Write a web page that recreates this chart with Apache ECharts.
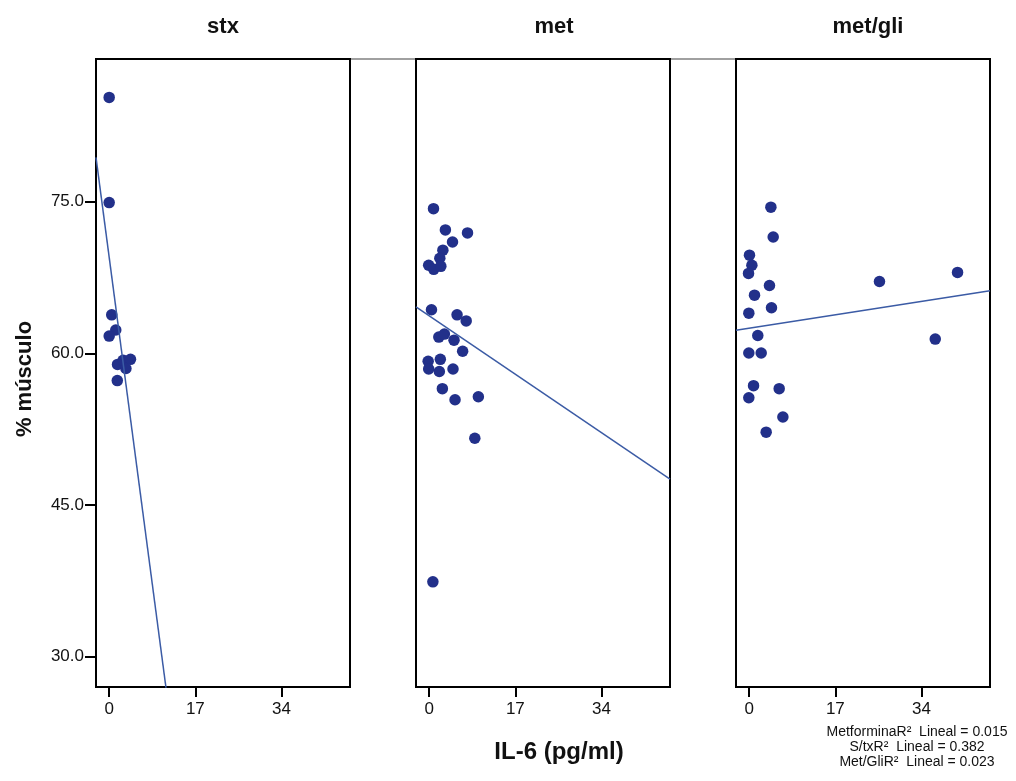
<!DOCTYPE html>
<html>
<head>
<meta charset="utf-8">
<script src="https://cdn.jsdelivr.net/npm/echarts@6/dist/echarts.min.js"></script>
<style>html,body{margin:0;padding:0;background:#fff}#c{width:1016px;height:781px}</style>
</head>
<body>
<div id="c"></div>
<script>
// ---- data ----
const panelTitles = ['stx', 'met', 'met/gli'];
const stxX = [0, 0, 0.5, 1.3, 0, 1.65, 2.76, 4.2, 3.3, 1.6];
const stxY = [85.3, 74.9, 63.8, 62.3, 61.7, 58.9, 59.3, 59.4, 58.5, 57.3];
const metX = [0.85, 3.2, 7.56, 4.6, 2.7, 2.1, -0.1, 0.9, 2.3, 0.45, 5.5, 7.3, 1.9, 3.0, 4.9, 6.6, -0.2, 2.2, -0.1, 2.0, 4.7, 2.6, 5.1, 9.7, 9.0, 0.73];
const metY = [74.3, 72.2, 71.9, 71.0, 70.2, 69.4, 68.7, 68.3, 68.6, 64.3, 63.8, 63.2, 61.6, 61.9, 61.3, 60.2, 59.2, 59.4, 58.45, 58.2, 58.45, 56.5, 55.4, 55.7, 51.6, 37.4];
const gliX = [4.28, 4.74, 0.06, 0.53, -0.13, 4.0, 1.05, 4.4, -0.07, 1.7, -0.07, 2.37, 0.86, 5.92, -0.07, 6.65, 3.35, 25.7, 41.1, 36.7];
const gliY = [74.45, 71.5, 69.7, 68.7, 67.9, 66.7, 65.75, 64.5, 63.97, 61.76, 60.03, 60.03, 56.8, 56.5, 55.6, 53.7, 52.2, 67.1, 68.0, 61.4];
// linear fits [intercept, slope]
const stxFit = [69.5, -3.8];
const metFit = [63.7, -0.34];
const gliFit = [62.48, 0.078];
const xTicks = [0, 17, 34];
const yTicks = [30, 45, 60, 75];
const r2Labels = ['Metformina', 'S/tx', 'Met/Gli'];
const r2Values = ['0.015', '0.382', '0.023'];
const xName = 'IL-6 (pg/ml)';
const yName = '% músculo';

const X_MIN = -2.6, X_MAX = 47.5, Y_MIN = 27.0, Y_MAX = 89.1;
const FONT = 'Liberation Sans, Arial, Helvetica, sans-serif';
const DOT = '#22308a', LINE = '#3b5ba5';

const xs = [stxX, metX, gliX], ys = [stxY, metY, gliY], fits = [stxFit, metFit, gliFit];
const lefts = [96, 416, 736];

const grid = lefts.map(l => ({left: l, top: 59, width: 254, height: 628, show: true, borderColor: '#000', borderWidth: 2, backgroundColor: 'transparent'}));
const xAxis = lefts.map((l, i) => ({
  type: 'value', gridIndex: i, min: X_MIN, max: X_MAX,
  splitLine: {show: false}, axisLine: {show: false, onZero: false},
  axisTick: {show: true, length: 10, customValues: xTicks, lineStyle: {color: '#000', width: 2}},
  axisLabel: {show: true, customValues: xTicks, margin: 14, fontSize: 17, color: '#111', fontFamily: FONT}
}));
const yAxis = lefts.map((l, i) => ({
  type: 'value', gridIndex: i, min: Y_MIN, max: Y_MAX,
  splitLine: {show: false}, axisLine: {show: false, onZero: false},
  axisTick: {show: i === 0, length: 11, customValues: yTicks, lineStyle: {color: '#000', width: 2}},
  axisLabel: {show: i === 0, customValues: yTicks, margin: 12, fontSize: 17, color: '#111', fontFamily: FONT,
    formatter: v => v.toFixed(1)}
}));

const series = [];
for (let i = 0; i < 3; i++) {
  series.push({
    type: 'scatter', xAxisIndex: i, yAxisIndex: i, symbolSize: 11.5,
    itemStyle: {color: DOT, opacity: 1}, silent: true,
    data: xs[i].map((x, k) => [x, ys[i][k]])
  });
  const f = fits[i];
  series.push({
    type: 'line', xAxisIndex: i, yAxisIndex: i, showSymbol: false, clip: true, silent: true,
    lineStyle: {color: LINE, width: 1.5},
    data: [[X_MIN, f[0] + f[1] * X_MIN], [X_MAX, f[0] + f[1] * X_MAX]]
  });
}

const titleCenters = [218, 549, 863];
const title = panelTitles.map((t, i) => ({
  text: t, left: titleCenters[i], top: 11, textAlign: 'center',
  textStyle: {fontSize: 22, fontWeight: 'bold', color: '#111', fontFamily: FONT}
}));
title.push({text: xName, left: 554, top: 735, textAlign: 'center',
  textStyle: {fontSize: 24, fontWeight: 'bold', color: '#111', fontFamily: FONT}});
title.push({text: r2Labels.map((l, i) => l + 'R²  Lineal = ' + r2Values[i]).join('\n'),
  left: 912, top: 720, textAlign: 'center',
  textStyle: {fontSize: 14, fontWeight: 'normal', color: '#111', fontFamily: FONT, lineHeight: 15, align: 'center'}});

const chart = echarts.init(document.getElementById('c'), null, {renderer: 'canvas'});
chart.setOption({
  animation: false,
  backgroundColor: '#fff',
  title, grid, xAxis, yAxis, series,
  graphic: [
    {type: 'line', z: -1, shape: {x1: 350, y1: 59, x2: 416, y2: 59}, style: {stroke: '#808080', lineWidth: 1.5}},
    {type: 'line', z: -1, shape: {x1: 670, y1: 59, x2: 736, y2: 59}, style: {stroke: '#808080', lineWidth: 1.5}},
    {type: 'text', x: 25, y: 379, rotation: Math.PI / 2,
      style: {text: yName, align: 'center', verticalAlign: 'middle', fontSize: 22, fontWeight: 'bold', fill: '#111', fontFamily: FONT}}
  ]
});
</script>
</body>
</html>
